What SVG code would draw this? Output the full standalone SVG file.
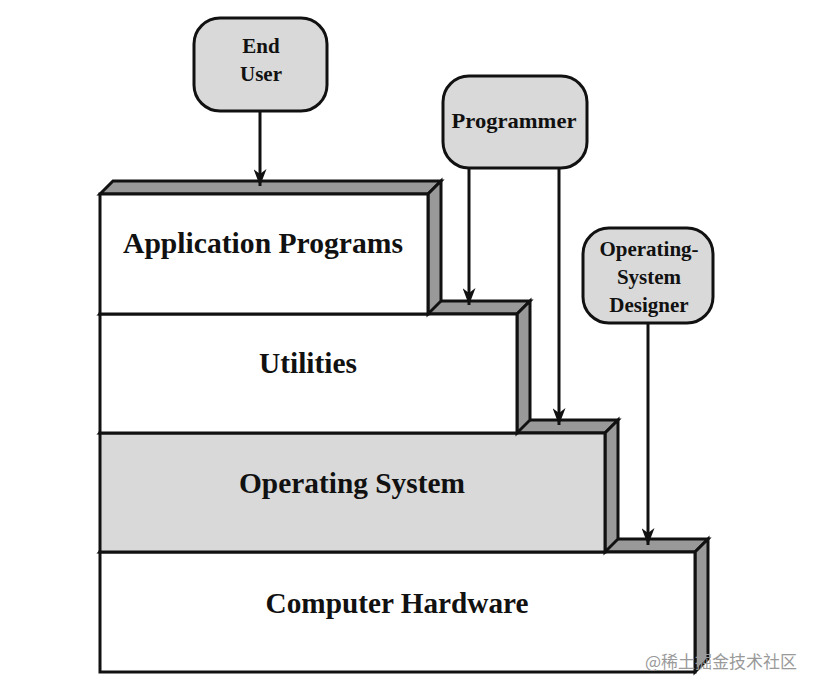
<svg xmlns="http://www.w3.org/2000/svg" width="818" height="692" viewBox="0 0 818 692">
<style>
.face{fill:#ffffff;stroke:#111;stroke-width:3;stroke-linejoin:miter}
.os{fill:#d9d9d9}
.shade{fill:#999999;stroke:#111;stroke-width:3;stroke-linejoin:miter}
.actor{fill:#d9d9d9;stroke:#111;stroke-width:3}
.lbl{font-family:"Liberation Serif","Times New Roman",serif;font-weight:bold;fill:#111;text-anchor:middle}
.big{font-size:29px}
.small{font-size:21px}
.conn{fill:none;stroke:#111;stroke-width:3}
.wm{font-family:"Noto Sans CJK SC","Noto Sans",sans-serif;font-size:17px;fill:#9a9a9a}
</style>
<defs>
<marker id="arr" viewBox="0 0 17 13" refX="17" refY="6.5" markerWidth="17" markerHeight="13" markerUnits="userSpaceOnUse" orient="auto">
<path d="M0,0 L17,6.5 L0,13 L5,6.5 Z" fill="#111"/>
</marker>
</defs>
<rect width="818" height="692" fill="#ffffff"/>

<g id="computer-hardware">
<polygon class="shade" points="100,552 113,539 708,539 695,552"/>
<polygon class="shade" points="695,552 708,539 708,659 695,672"/>
<rect class="face" x="100" y="552" width="595" height="120"/>
<text class="lbl big" x="397" y="613" textLength="263" lengthAdjust="spacingAndGlyphs">Computer Hardware</text>
</g>

<g id="operating-system">
<polygon class="shade" points="100,433 113,420 618,420 605,433"/>
<polygon class="shade" points="605,433 618,420 618,539 605,552"/>
<rect class="face os" x="100" y="433" width="505" height="119"/>
<text class="lbl big" x="352" y="493" textLength="226" lengthAdjust="spacingAndGlyphs">Operating System</text>
</g>

<g id="utilities">
<polygon class="shade" points="100,314 113,301 530,301 517,314"/>
<polygon class="shade" points="517,314 530,301 530,420 517,433"/>
<rect class="face" x="100" y="314" width="417" height="119"/>
<text class="lbl big" x="308" y="373" textLength="98" lengthAdjust="spacingAndGlyphs">Utilities</text>
</g>

<g id="application-programs">
<polygon class="shade" points="100,194 113,181 441,181 428,194"/>
<polygon class="shade" points="428,194 441,181 441,301 428,314"/>
<rect class="face" x="100" y="194" width="328" height="120"/>
<text class="lbl big" x="263" y="253" textLength="280" lengthAdjust="spacingAndGlyphs">Application Programs</text>
</g>

<g id="end-user">
<rect class="actor" x="194" y="18" width="133" height="93" rx="26"/>
<text class="lbl small" x="261" y="53">End</text>
<text class="lbl small" x="261" y="81">User</text>
</g>

<g id="programmer">
<rect class="actor" x="443" y="76" width="144" height="92" rx="26"/>
<text class="lbl" style="font-size:22px" x="514" y="128" textLength="125" lengthAdjust="spacingAndGlyphs">Programmer</text>
</g>

<g id="os-designer">
<rect class="actor" x="583" y="228" width="130" height="95" rx="26"/>
<text class="lbl small" x="649" y="256">Operating-</text>
<text class="lbl small" x="649" y="284">System</text>
<text class="lbl small" x="649" y="312">Designer</text>
</g>

<g id="connectors">
<line class="conn" x1="260" y1="111" x2="260" y2="186" marker-end="url(#arr)"/>
<line class="conn" x1="469" y1="168" x2="469" y2="305" marker-end="url(#arr)"/>
<line class="conn" x1="559" y1="168" x2="559" y2="425" marker-end="url(#arr)"/>
<line class="conn" x1="648" y1="323" x2="648" y2="545" marker-end="url(#arr)"/>
</g>

<text class="wm" x="645" y="668">@稀土掘金技术社区</text>
</svg>
